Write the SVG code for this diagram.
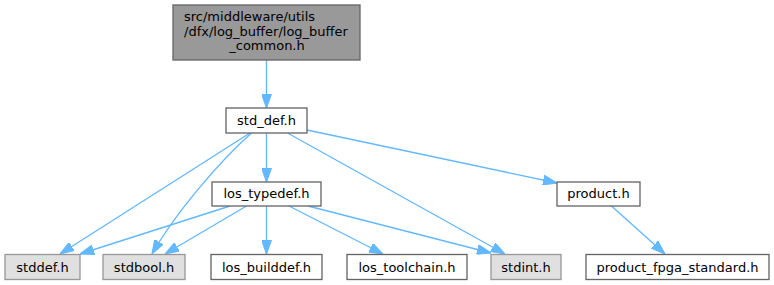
<svg xmlns="http://www.w3.org/2000/svg" width="774" height="285" viewBox="0 0 774 285">
<style>
  .node rect { stroke-width: 1.33; }
  .white rect { fill: #ffffff; stroke: #666666; }
  .grey rect { fill: #e0e0e0; stroke: #999999; }
  .root rect { fill: #999999; stroke: #666666; }
  text { font-family: "DejaVu Sans", "Liberation Sans", sans-serif; font-size: 13px; fill: #000000; }
  .c { text-anchor: middle; }
  .edges path { fill: none; stroke: #63b8ff; stroke-width: 1.33; }
</style>
<defs>
  <marker id="ah" markerUnits="userSpaceOnUse" markerWidth="14" markerHeight="10" viewBox="0 0 13.3 9.4" refX="13.3" refY="4.7" orient="auto">
    <path d="M0,0 L13.3,4.7 L0,9.4 z" fill="#63b8ff" stroke="#63b8ff" stroke-width="1"/>
  </marker>
</defs>
<rect width="774" height="285" fill="#ffffff"/>
<g class="edges">
  <path d="M266.5,60 L266.5,108" marker-end="url(#ah)"/>
  <path d="M250,133 L60,254" marker-end="url(#ah)"/>
  <path d="M251.5,133 C221,160 176,212 152,254" marker-end="url(#ah)"/>
  <path d="M266.5,133 L266.5,182" marker-end="url(#ah)"/>
  <path d="M287.5,133 L505,254" marker-end="url(#ah)"/>
  <path d="M307,130 L557,183" marker-end="url(#ah)"/>
  <path d="M230,206 L80,254" marker-end="url(#ah)"/>
  <path d="M246.5,206 L165,254" marker-end="url(#ah)"/>
  <path d="M266.5,206 L266.5,254" marker-end="url(#ah)"/>
  <path d="M289,206 L383,254" marker-end="url(#ah)"/>
  <path d="M308,206 L491,253" marker-end="url(#ah)"/>
  <path d="M611.5,206 L665,254" marker-end="url(#ah)"/>
</g>
<g id="node_root" class="node root">
  <rect x="173" y="5" width="187" height="55"/>
  <text x="184" y="21">src/middleware/utils</text>
  <text x="184" y="35.5">/dfx/log_buffer/log_buffer</text>
  <text class="c" x="267" y="50">_common.h</text>
</g>
<g id="node_std_def" class="node white">
  <rect x="226" y="108" width="81" height="25"/>
  <text class="c" x="266.5" y="124.5">std_def.h</text>
</g>
<g id="node_los_typedef" class="node white">
  <rect x="212" y="182" width="109" height="24"/>
  <text class="c" x="266.5" y="198">los_typedef.h</text>
</g>
<g id="node_product" class="node white">
  <rect x="557" y="182" width="83" height="24"/>
  <text class="c" x="598.5" y="198">product.h</text>
</g>
<g id="node_stddef" class="node grey">
  <rect x="5" y="254.5" width="75" height="25"/>
  <text class="c" x="42.5" y="271.5">stddef.h</text>
</g>
<g id="node_stdbool" class="node grey">
  <rect x="103" y="254.5" width="82" height="25"/>
  <text class="c" x="144" y="271.5">stdbool.h</text>
</g>
<g id="node_los_builddef" class="node white">
  <rect x="211" y="254.5" width="111" height="25"/>
  <text class="c" x="266.5" y="271.5">los_builddef.h</text>
</g>
<g id="node_los_toolchain" class="node white">
  <rect x="347" y="254.5" width="120" height="25"/>
  <text class="c" x="407" y="271.5">los_toolchain.h</text>
</g>
<g id="node_stdint" class="node grey">
  <rect x="491" y="254.5" width="70" height="25"/>
  <text class="c" x="526" y="271.5">stdint.h</text>
</g>
<g id="node_fpga" class="node white">
  <rect x="586" y="254.5" width="183" height="25"/>
  <text class="c" x="677.5" y="271.5">product_fpga_standard.h</text>
</g>
</svg>
